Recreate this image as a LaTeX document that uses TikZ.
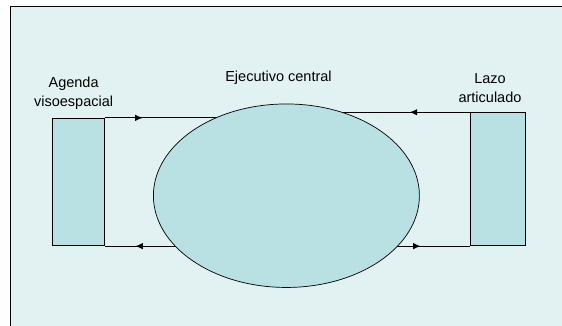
\documentclass[tikz,border=0pt]{standalone}
\usepackage{fontspec}
\setmainfont{Liberation Sans}
\usepackage{xcolor}
\usetikzlibrary{arrows.meta,positioning,decorations.markings,shapes.geometric}
\definecolor{bgcyan}{RGB}{226,242,242}
\definecolor{boxcyan}{RGB}{185,224,227}

\begin{document}
\begin{tikzpicture}[
    x=1pt, y=1pt,
    font=\fontsize{14.5}{19}\selectfont,
    store/.style={draw, fill=boxcyan, line width=0.9pt, inner sep=0pt},
    lbl/.style={align=center, inner sep=0pt},
    flow/.style={line width=1pt, postaction={decorate},
      decoration={markings, mark=at position #1 with {\arrow{Latex[length=7.5pt,width=6.5pt]}}}}
  ]
  \useasboundingbox (0,0) rectangle (562,325);
  \fill[white] (0,0) rectangle (562,325);
  \fill[bgcyan] (10,-2) rectangle (564,319);
  \draw[line width=1pt] (10,-2) |- (564,319);

  \node[store, minimum width=51.3pt, minimum height=127.4pt] (agenda) at (78.4,143) {};
  \node[store, minimum width=54.6pt, minimum height=133pt] (lazo) at (498,145.8) {};
  \coordinate (ec) at (286.4,129.3);

  % connectors, ellipse drawn over them
  \draw[flow=0.21] (agenda.north east) -- (agenda.north east -| ec);
  \draw[flow=0.33] (lazo.north west) -- (lazo.north west -| ec);
  \draw[flow=0.83] (agenda.south east -| ec) -- (agenda.south east);
  \draw[flow=0.73] (lazo.south west -| ec) -- (lazo.south west);

  \node[draw, ellipse, fill=boxcyan, line width=0.7pt, minimum width=266pt, minimum height=183.5pt, inner sep=0pt] (ejec) at (ec) {};

  \node[lbl] (agendalbl) at (73.6,231.5) {Agenda\\visoespacial};
  \node[lbl] (ejeclbl) at (278.5,247) {Ejecutivo central};
  \node[lbl] (lazolbl) at (490,237) {Lazo\\articulado};
\end{tikzpicture}
\end{document}
